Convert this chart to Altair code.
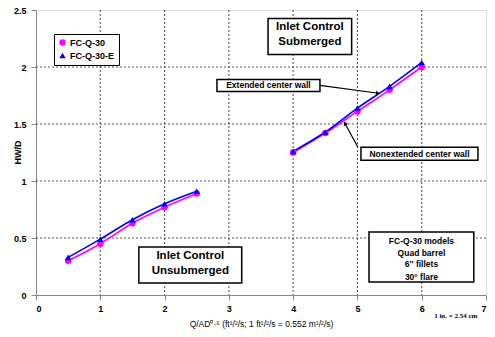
import altair as alt
import pandas as pd

# ---- data ----
series_names = ["FC-Q-30", "FC-Q-30-E"]
x_unsub = [0.5, 1.0, 1.5, 2.0, 2.5]
q30_unsub = [0.30, 0.45, 0.63, 0.77, 0.89]
q30e_unsub = [0.33, 0.49, 0.66, 0.80, 0.91]
x_sub = [4.0, 4.5, 5.0, 5.5, 6.0]
q30_sub = [1.25, 1.42, 1.61, 1.80, 2.00]
q30e_sub = [1.26, 1.43, 1.64, 1.83, 2.04]

x_ticks = [0, 1, 2, 3, 4, 5, 6, 7]
y_ticks = [0, 0.5, 1, 1.5, 2, 2.5]

rows = []
for name, xs_, ys_, seg in [
    ("FC-Q-30", x_unsub, q30_unsub, "u"),
    ("FC-Q-30", x_sub, q30_sub, "s"),
    ("FC-Q-30-E", x_unsub, q30e_unsub, "u"),
    ("FC-Q-30-E", x_sub, q30e_sub, "s"),
]:
    for i, (xv, yv) in enumerate(zip(xs_, ys_)):
        rows.append({"series": name, "seg": name + seg, "x": xv, "y": yv,
                     "order": i, "layer": series_names.index(name)})
df = pd.DataFrame(rows)

FONT = "Liberation Sans"
colors = ["#FF00FF", "#0000FF"]
shapes = ["circle", "triangle-up"]

xs = alt.Scale(domain=[0, 7], nice=False, zero=False)
ys = alt.Scale(domain=[0, 2.5], nice=False, zero=False)

X = alt.X("x:Q", scale=xs, axis=alt.Axis(
    values=x_ticks, format="d", grid=False,
    title="Q/AD⁰·⁵ (ft¹/²/s; 1 ft¹/²/s = 0.552 m¹/²/s)",
    titleFontSize=8.5, titleFontWeight="normal", titlePadding=6,
    labelFontSize=9, labelFontWeight="bold", labelPadding=4))
Y = alt.Y("y:Q", scale=ys, axis=alt.Axis(
    values=y_ticks, format="~g", grid=False, title="HW/D",
    titleFontSize=9, titleFontWeight="bold",
    titleX=-19, titleY=142, titleAngle=270, titleAlign="center", titleBaseline="middle",
    labelFontSize=9, labelFontWeight="bold", labelPadding=5))

# ---- dotted grid from the tick arrays ----
gx = alt.Chart(pd.DataFrame({"x": x_ticks[1:-1]})).mark_rule(
    color="#555555", strokeWidth=1.1, strokeDash=[2, 2], opacity=1).encode(x=X)
gy = alt.Chart(pd.DataFrame({"y": y_ticks[1:-1]})).mark_rule(
    color="#555555", strokeWidth=1.1, strokeDash=[2, 2], opacity=1).encode(y=Y)

lines = []
for i, name in enumerate(series_names):
    sub = df[df["series"] == name]
    lines.append(alt.Chart(sub).mark_line(interpolate="monotone", strokeWidth=1.6,
                                          color=colors[i]).encode(
        x=X, y=Y, detail="seg:N", order="order:Q"))

pts = alt.Chart(df).mark_point(filled=True, size=42, opacity=1).encode(
    x=X, y=Y,
    color=alt.Color("series:N", scale=alt.Scale(domain=series_names, range=colors),
                    legend=alt.Legend(title=None, orient="none", legendX=18, legendY=24,
                                      strokeColor="black", fillColor="white", padding=4,
                                      labelFont=FONT, labelFontSize=9, labelFontWeight="bold",
                                      labelColor="black",
                                      symbolSize=40, rowPadding=3, labelOffset=3)),
    shape=alt.Shape("series:N", scale=alt.Scale(domain=series_names, range=shapes)),
    order="layer:Q",
)

# ---- annotation boxes ----
box_x1 = [3.61, 1.60, 2.815, 5.055, 5.18]
box_x2 = [4.91, 3.20, 4.417, 6.875, 6.81]
box_y1 = [2.425, 0.42, 1.891, 1.296, 0.552]
box_y2 = [2.11, 0.105, 1.786, 1.182, 0.114]
boxes_df = pd.DataFrame({"x1": box_x1, "x2": box_x2, "y1": box_y1, "y2": box_y2})
boxes = alt.Chart(boxes_df).mark_rect(fill="white", stroke="black", strokeWidth=1.5).encode(
    x=alt.X("x1:Q", scale=xs), x2="x2:Q", y=alt.Y("y1:Q", scale=ys), y2="y2:Q")

big_text = ["Inlet Control", "Submerged", "Inlet Control", "Unsubmerged"]
big_x = [4.26, 4.26, 2.40, 2.40]
big_y = [2.347, 2.215, 0.341, 0.21]
big = alt.Chart(pd.DataFrame({"t": big_text, "x": big_x, "y": big_y})).mark_text(
    font=FONT, fontSize=11.5, fontWeight="bold", baseline="middle", align="center").encode(
    x=alt.X("x:Q", scale=xs), y=alt.Y("y:Q", scale=ys), text="t:N")

small_text = ["Extended center wall", "Nonextended center wall",
              "FC-Q-30 models", "Quad barrel", "6'' fillets", "30° flare"]
small_x = [3.616, 5.965, 5.996, 5.996, 5.996, 5.996]
small_y = [1.839, 1.239, 0.473, 0.372, 0.268, 0.160]
small = alt.Chart(pd.DataFrame({"t": small_text, "x": small_x, "y": small_y})).mark_text(
    font=FONT, fontSize=8.5, fontWeight="bold", baseline="middle", align="center").encode(
    x=alt.X("x:Q", scale=xs), y=alt.Y("y:Q", scale=ys), text="t:N")

# arrows
arr_x1 = [4.417, 5.008]
arr_y1 = [1.839, 1.296]
arr_x2 = [5.30, 4.815]
arr_y2 = [1.772, 1.495]
arr_df = pd.DataFrame({"x1": arr_x1, "y1": arr_y1, "x2": arr_x2, "y2": arr_y2})
arrows = alt.Chart(arr_df).mark_rule(color="black", strokeWidth=1.2).encode(
    x=alt.X("x1:Q", scale=xs), y=alt.Y("y1:Q", scale=ys), x2="x2:Q", y2="y2:Q")
head_df = pd.DataFrame({"x": [5.32, 4.806], "y": [1.769, 1.506], "a": [98, 332]})
heads = alt.Chart(head_df).mark_point(shape="triangle-up", filled=True, color="black",
                                      size=22, opacity=1).encode(
    x=alt.X("x:Q", scale=xs), y=alt.Y("y:Q", scale=ys), angle=alt.Angle("a:Q", scale=None))

note = alt.Chart(pd.DataFrame({"t": ["1 in. = 2.54 cm"], "x": [6.53], "y": [-0.184]})).mark_text(
    font="Liberation Serif", fontSize=7, fontWeight="bold", baseline="middle", align="center").encode(
    x=alt.X("x:Q", scale=xs), y=alt.Y("y:Q", scale=ys), text="t:N")

chart = alt.layer(
    gx, gy, *lines, pts, boxes, big, small, arrows, heads, note
).properties(
    width=450, height=285,
    autosize=alt.AutoSizeParams(type="none"),
    padding={"left": 36, "top": 10, "right": 9, "bottom": 42},
).configure_view(
    stroke="#6a6a6a", strokeWidth=1.5
).configure_axis(
    labelFont=FONT, titleFont=FONT, labelColor="black", titleColor="black",
    domainColor="black", domainWidth=2, tickColor="black", tickSize=3, grid=False,
).configure(background="white")

chart.save("out.html", embed_options={"renderer": "svg", "actions": False})
